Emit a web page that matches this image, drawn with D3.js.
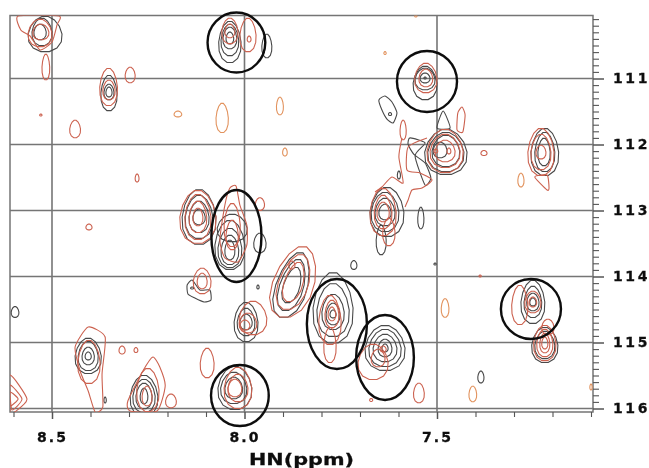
<!DOCTYPE html>
<html><head><meta charset="utf-8">
<script src="https://cdnjs.cloudflare.com/ajax/libs/d3/7.8.5/d3.min.js"></script>
<style>html,body{margin:0;padding:0;background:#fff}svg{display:block}</style>
</head><body><div id="chart"></div>
<script>
// Axis values (ppm)
const hnLabels = [8.5, 8.0, 7.5];
const nLabels = [111, 112, 113, 114, 115, 116];
const hnTicks = [8.6,8.5,8.4,8.3,8.2,8.1,8.0,7.9,7.8,7.7,7.6,7.5,7.4,7.3,7.2,7.1];
const nTicks = [110.1,110.2,110.3,110.4,110.5,110.6,110.7,110.8,110.9,111,111.1,111.2,111.3,111.4,111.5,111.6,111.7,111.8,111.9,112,112.1,112.2,112.3,112.4,112.5,112.6,112.7,112.8,112.9,113,113.1,113.2,113.3,113.4,113.5,113.6,113.7,113.8,113.9,114,114.1,114.2,114.3,114.4,114.5,114.6,114.7,114.8,114.9,115,115.1,115.2,115.3,115.4,115.5,115.6,115.7,115.8,115.9,116];

// Contour rings: [HN centre, N centre, HN half-width, N half-height, optional lean dHN/dN]
const blackRings = [
[8.518,110.326,.044,.273],[8.526,110.295,.026,.212],[8.531,110.295,.016,.121],
[8.352,111.22,.021,.273],[8.352,111.205,.013,.121],[8.352,111.205,.008,.076],
[8.038,110.447,.029,.318],[8.038,110.417,.023,.242],[8.038,110.386,.018,.167],[8.038,110.386,.010,.091],
[7.942,110.508,.013,.182],
[7.531,111.068,.031,.258],[7.531,111.008,.026,.167],[7.531,110.992,.013,.076],[7.531,110.992,.003,.015],
[7.622,111.538,.004,.023],
[7.477,112.114,.055,.348],[7.477,112.114,.047,.303],[7.477,112.098,.036,.242],[7.492,112.083,.018,.121],
[7.63,113.023,.044,.379],[7.635,113.023,.036,.303],[7.635,113.023,.026,.212],[7.635,113.023,.016,.121],
[7.645,113.447,.013,.227],[7.542,113.114,.008,.167],[7.599,112.462,.004,.061],
[7.22,112.114,.036,.364],[7.22,112.114,.026,.303],[7.222,112.114,.016,.212],
[8.118,113.098,.044,.424],[8.118,113.098,.036,.333],[8.118,113.098,.026,.242],[8.118,113.098,.016,.121],
[8.038,113.523,.039,.379],[8.038,113.568,.031,.303],[8.038,113.598,.023,.227],[8.038,113.598,.013,.152],
[8.032,113.265,.039,.212],[7.96,113.492,.016,.152],
[8.136,114.174,.004,.015],[7.965,114.159,.003,.03],
[7.877,114.129,.042,.5,.043],[7.877,114.129,.032,.394,.043],[7.877,114.129,.022,.273,.043],
[7.996,114.689,.031,.303],[7.996,114.689,.023,.212],[7.996,114.689,.016,.121],
[8.406,115.204,.034,.273],[8.406,115.204,.026,.227],[8.406,115.204,.016,.136],[8.406,115.204,.008,.061],
[8.362,115.871,.003,.045],[8.596,114.538,.010,.083],
[8.261,115.811,.036,.318],[8.261,115.811,.029,.258],[8.261,115.811,.021,.197],[8.261,115.811,.010,.121],
[8.025,115.689,.044,.333],[8.028,115.689,.034,.242],[8.028,115.689,.023,.167],
[7.77,114.477,.052,.545],[7.77,114.508,.042,.409],[7.77,114.538,.029,.273],[7.77,114.568,.018,.167],[7.77,114.568,.008,.061],
[7.635,115.083,.052,.348],[7.635,115.083,.042,.288],[7.635,115.083,.031,.212],[7.635,115.083,.018,.136],[7.635,115.083,.008,.061],
[7.505,113.811,.003,.015],[7.716,113.826,.008,.068],[7.386,115.523,.008,.091],
[7.251,114.386,.031,.333],[7.251,114.386,.023,.242],[7.251,114.386,.016,.136],[7.251,114.386,.008,.061],
[7.22,115.038,.034,.273],[7.22,115.038,.026,.212]
];
const redRings = [
[8.531,110.311,.031,.212],[8.529,110.295,.021,.121],[8.516,110.826,.010,.197],
[8.353,111.129,.023,.288],[8.352,111.174,.016,.152],[8.297,110.947,.013,.121],
[8.44,111.765,.014,.136],[8.529,111.553,.003,.015],[8.279,112.508,.005,.061],[8.404,113.25,.008,.045],
[8.038,110.28,.021,.197],[8.038,110.28,.013,.106],[7.991,110.341,.021,.258],[7.988,110.402,.005,.045],
[7.529,110.992,.029,.227],[7.529,110.992,.018,.136],
[7.479,112.098,.047,.333],[7.479,112.098,.039,.258],[7.479,112.098,.026,.167],[7.503,112.098,.005,.03],[7.469,112.098,.005,.045],
[7.588,111.78,.008,.152],[7.378,112.129,.008,.038],
[7.64,113.023,.034,.364],[7.64,113.023,.023,.258],[7.64,113.023,.016,.152],[7.625,113.326,.016,.212],
[7.23,112.114,.034,.364],[7.23,112.114,.026,.273],[7.23,112.114,.013,.106],
[8.121,113.098,.047,.409],[8.121,113.098,.034,.348],[8.121,113.098,.023,.242],[8.121,113.098,.013,.136],
[8.032,113.22,.021,.333],[8.032,113.371,.016,.227],[7.96,112.902,.012,.098],
[8.11,114.068,.023,.197],[8.11,114.068,.013,.121],
[7.872,114.083,.055,.545,.043],[7.872,114.083,.04,.424,.043],[7.872,114.083,.025,.303,.043],[7.877,113.826,.008,.061],
[7.978,114.629,.036,.258],[7.991,114.705,.023,.152],[7.999,114.735,.013,.076],
[8.404,115.295,.029,.333],[8.318,115.114,.008,.061],[8.282,115.114,.005,.038],[8.097,115.311,.018,.227],[8.191,115.886,.014,.106],
[8.251,115.72,.029,.333],[8.253,115.811,.013,.152],
[8.017,115.689,.036,.318],[8.017,115.689,.026,.212],[8.025,115.689,.018,.136],
[7.778,114.659,.029,.379],[7.773,114.568,.018,.212],[7.773,114.568,.010,.106],[7.778,115.038,.016,.273],
[7.666,115.295,.039,.273],[7.653,115.235,.018,.136],[7.64,115.098,.008,.045],
[7.547,115.765,.014,.152],[7.671,115.871,.004,.023],[7.388,113.992,.003,.015],
[7.285,114.432,.021,.303],[7.251,114.386,.021,.167],[7.251,114.386,.010,.076],
[7.22,115.008,.029,.273],[7.22,115.008,.021,.212],[7.22,115.008,.013,.152],[7.22,115.008,.008,.091],[7.212,114.765,.016,.121]
];
const orangeRings = [
[8.173,111.538,.010,.045],[8.058,111.598,.016,.227],[7.908,111.417,.009,.136],[7.895,112.114,.006,.061],
[7.635,110.614,.003,.023],[7.555,110.053,.003,.015],[7.282,112.538,.008,.106],
[7.479,114.477,.010,.144],[7.407,115.78,.010,.121],[7.1,115.674,.003,.045]
];

// Irregular contour outlines as [HN, N] vertices
const blackOutlines = [
[[7.651,111.326],[7.635,111.265],[7.617,111.356],[7.604,111.523],[7.614,111.674],[7.63,111.614],[7.643,111.477]],
[[7.57,111.9],[7.531,111.977],[7.557,112.17],[7.531,112.614],[7.516,112.508],[7.531,112.28],[7.56,112.15],[7.575,112.0]],
[[7.5,111.75],[7.484,111.492],[7.466,111.75]],
[[8.149,114.129],[8.136,114.053],[8.116,114.205],[8.09,114.205],[8.087,114.356],[8.105,114.386],[8.129,114.326],[8.147,114.265]]
];
const redOutlines = [
[[8.588,110.053],[8.581,110.265],[8.557,110.356],[8.531,110.568],[8.5,110.447],[8.487,110.189],[8.482,110.053]],
[[7.448,111.78],[7.446,111.523],[7.435,111.432],[7.427,111.553],[7.433,111.81]],
[[7.246,112.492],[7.214,112.689],[7.209,112.659],[7.214,112.462]],
[[8.051,112.917],[8.038,112.659],[8.022,112.629],[8.012,112.917],[7.994,113.22],[7.994,113.523],[8.017,113.78],[8.051,113.72],[8.064,113.447]],
[[8.44,115.068],[8.406,114.765],[8.362,114.917],[8.37,115.477],[8.368,115.977],[8.388,116.053],[8.406,115.735],[8.427,115.432]],
[[8.609,115.492],[8.565,115.856],[8.596,116.05],[8.609,116.05]],
[[8.609,115.644],[8.578,115.856],[8.604,116.02]],
[[8.609,115.75],[8.588,115.856],[8.609,115.962]],
[[8.303,115.886],[8.264,115.432],[8.238,115.22],[8.22,115.371],[8.206,115.659],[8.227,116.038],[8.297,116.038]]
];
const redTraces = [
[[7.591,111.901],[7.599,112.189],[7.588,112.583],[7.617,112.492],[7.643,112.644],[7.661,112.72]],
[[7.526,111.901],[7.575,112.038],[7.578,112.386],[7.544,112.432],[7.513,112.538],[7.539,112.659],[7.565,112.689],[7.575,112.841],[7.583,112.947]]
];

// Hand-drawn annotation ovals: [HN centre, N centre, HN half-width, N half-height]
const circledPeaks = [
[8.021,110.455,.075,.455],[7.526,111.045,.078,.462],[8.021,113.386,.065,.697],
[8.012,115.803,.075,.462],[7.76,114.72,.078,.682],[7.635,115.227,.075,.644],[7.256,114.492,.078,.455]
];

const W = 649, H = 468;
const x = d3.scaleLinear().domain([8.5, 7.5]).range([52, 437]);
const y = d3.scaleLinear().domain([111, 116]).range([78.5, 408.5]);
const hnMin = x.invert(593), hnMax = x.invert(10), nMin = y.invert(15.5), nMax = y.invert(412);

const svg = d3.select('#chart').append('svg').attr('width', W).attr('height', H);
const defs = svg.append('defs');
defs.append('filter').attr('id', 'soft').attr('x', '-5%').attr('y', '-5%').attr('width', '110%').attr('height', '110%')
  .append('feGaussianBlur').attr('stdDeviation', 0.55);
defs.append('clipPath').attr('id', 'plot').append('rect')
  .attr('x', x(hnMax)).attr('y', y(nMin)).attr('width', x(hnMin) - x(hnMax)).attr('height', y(nMax) - y(nMin));

const root = svg.append('g').attr('filter', 'url(#soft)');
const GRID = '#757575';

// Grid lines through the labelled positions
const grid = root.append('g').attr('fill', 'none').attr('stroke', GRID).attr('stroke-width', 1.6);
grid.selectAll('.v').data(hnLabels).join('line')
  .attr('x1', d => x(d)).attr('x2', d => x(d)).attr('y1', y(nMin)).attr('y2', y(nMax));
grid.selectAll('.h').data(nLabels).join('line')
  .attr('x1', x(hnMax)).attr('x2', x(hnMin)).attr('y1', d => y(d)).attr('y2', d => y(d));
root.append('rect').attr('x', x(hnMax)).attr('y', y(nMin))
  .attr('width', x(hnMin) - x(hnMax)).attr('height', y(nMax) - y(nMin))
  .attr('fill', 'none').attr('stroke', GRID).attr('stroke-width', 1.5);

// Axes
const tickFont = 'DejaVu Sans, sans-serif';
const axR = d3.axisRight(y).tickValues(nTicks).tickSize(6).tickPadding(14)
  .tickFormat(d => nLabels.includes(d) ? d3.format('d')(d) : '');
const axB = d3.axisBottom(x).tickValues(hnTicks).tickSize(5).tickPadding(15)
  .tickFormat(d => hnLabels.includes(d) ? d3.format('.1f')(d) : '');
const gR = root.append('g').attr('transform', `translate(${x(hnMin)},0)`).call(axR);
const gB = root.append('g').attr('transform', `translate(0,${y(nMax)})`).call(axB);
[gR, gB].forEach(g => {
  g.select('.domain').remove();
  g.selectAll('line').attr('stroke', '#555').attr('stroke-width', 1.1);
  g.selectAll('text').attr('fill', '#111').attr('font-family', tickFont)
    .attr('font-weight', 700).attr('font-size', 14).attr('stroke', '#111').attr('stroke-width', 0.3);
});
gR.selectAll('text').attr('letter-spacing', 2.6);
gB.selectAll('text').attr('letter-spacing', 2);
gR.selectAll('.tick').filter(d => nLabels.includes(d)).select('line').attr('x2', 11).attr('stroke-width', 1.5);
gB.selectAll('.tick').filter(d => hnLabels.includes(d)).select('line').attr('y2', 7).attr('stroke-width', 1.5);

root.append('text').attr('x', 249).attr('y', 465)
  .attr('font-family', tickFont).attr('font-weight', 700).attr('font-size', 16.5).attr('fill', '#111')
  .attr('stroke', '#111').attr('stroke-width', 0.3)
  .attr('textLength', 105).attr('lengthAdjust', 'spacingAndGlyphs').text('HN(ppm)');

// Contours: slightly faceted, egg-shaped rings like the plotted levels
const angles = d3.range(0, 2 * Math.PI, Math.PI / 7);
const ringPath = d3.line().x(d => d[0]).y(d => d[1]).curve(d3.curveLinearClosed);
function ring(d) {
  const [hn, n, rh, rn, lean = 0] = d;
  return ringPath(angles.map(a => {
    const dn = rn * Math.sin(a);
    return [x(hn + rh * (1 + 0.15 * Math.sin(a)) * Math.cos(a) + lean * dn), y(n + dn)];
  }));
}
const smoothClosed = d3.line().x(d => x(d[0])).y(d => y(d[1])).curve(d3.curveCardinalClosed.tension(0.4));
const smoothOpen = d3.line().x(d => x(d[0])).y(d => y(d[1])).curve(d3.curveCardinal.tension(0.4));

const peaks = root.append('g').attr('clip-path', 'url(#plot)').attr('fill', 'none');
function contours(cls, rings, outlines, traces, colour, width) {
  const g = peaks.append('g').attr('class', cls).attr('stroke', colour).attr('stroke-width', width);
  g.selectAll('path.r').data(rings).join('path').attr('class', 'r').attr('d', ring);
  g.selectAll('path.o').data(outlines).join('path').attr('class', 'o').attr('d', smoothClosed);
  g.selectAll('path.t').data(traces).join('path').attr('class', 't').attr('d', smoothOpen);
}
contours('black', blackRings, blackOutlines, [], '#484848', 1.1);
contours('red', redRings, redOutlines, redTraces, '#cc6250', 1.1);
contours('orange', orangeRings, [], [], '#e2935e', 1.1);

// Annotation ovals
root.append('g').attr('fill', 'none').attr('stroke', '#0d0d0d').attr('stroke-width', 2.4)
  .selectAll('ellipse').data(circledPeaks).join('ellipse')
  .attr('cx', d => x(d[0])).attr('cy', d => y(d[1]))
  .attr('rx', d => x(d[0] - d[2]) - x(d[0])).attr('ry', d => y(d[1] + d[3]) - y(d[1]));
</script></body></html>
